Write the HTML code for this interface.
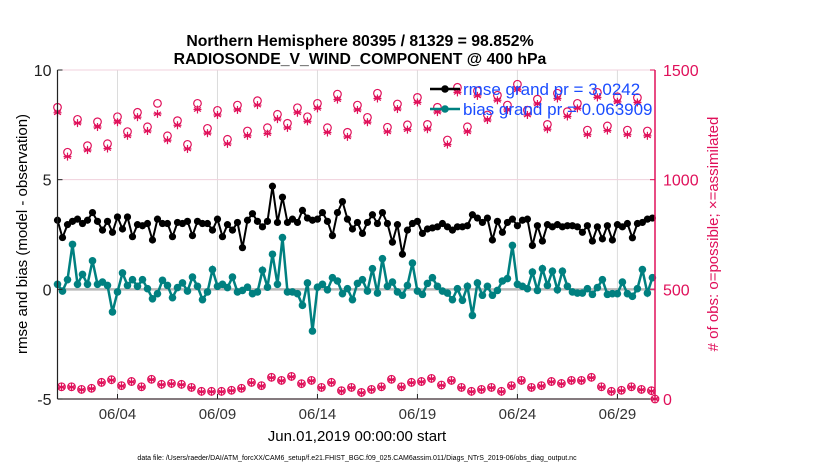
<!DOCTYPE html>
<html><head><meta charset="utf-8"><style>
html,body{margin:0;padding:0;background:#fff;}
svg{display:block;font-family:"Liberation Sans",Arial,sans-serif;}
</style></head><body>
<svg id="chart" width="830" height="470" viewBox="0 0 830 470" xmlns="http://www.w3.org/2000/svg">
<g id="grid"></g>
<g id="series"></g>
<g id="axes"></g>
<text x="360" y="46" text-anchor="middle" font-size="15.8" font-weight="bold">Northern Hemisphere 80395 / 81329 = 98.852%</text>
<text x="360" y="64" text-anchor="middle" font-size="15.8" font-weight="bold">RADIOSONDE_V_WIND_COMPONENT @ 400 hPa</text>
<text transform="translate(27,234) rotate(-90)" text-anchor="middle" font-size="15">rmse and bias (model - observation)</text>
<text transform="translate(718,234) rotate(-90)" text-anchor="middle" font-size="15" fill="#e0105a">&#35; of obs: o=possible; &#215;=assimilated</text>
<text x="357" y="441" text-anchor="middle" font-size="15">Jun.01,2019 00:00:00 start</text>
<text x="357" y="460" text-anchor="middle" font-size="7">data file: /Users/raeder/DAI/ATM_forcXX/CAM6_setup/f.e21.FHIST_BGC.f09_025.CAM6assim.011/Diags_NTrS_2019-06/obs_diag_output.nc</text>
<g id="legend"></g>
</svg>
<script>
const rmse=[3.15,2.36,2.95,3.1,3.2,3.0,3.15,3.5,3.1,2.7,3.1,2.6,3.3,2.75,3.3,2.4,2.95,2.9,3.0,2.25,3.2,3.0,3.0,2.4,3.05,3.0,3.1,2.45,3.1,3.0,
3.0,2.7,3.2,2.4,2.95,2.7,3.05,1.9,3.15,3.45,3.1,2.85,3.1,4.7,3.05,4.2,3.05,3.2,3.05,3.6,3.25,3.15,3.2,3.5,3.1,2.45,3.5,4.0,3.2,2.75,
3.05,2.55,3.05,3.4,3.0,3.5,3.0,2.15,2.95,1.6,2.7,3.0,3.1,2.55,2.75,2.8,2.85,3.0,2.85,2.7,2.85,2.85,2.9,3.4,3.25,3.05,3.25,2.25,3.1,2.6,
3.05,3.2,2.9,3.15,3.2,2.0,2.9,2.2,2.95,2.85,2.95,2.85,2.9,2.9,2.85,2.6,2.9,2.2,2.85,2.3,2.9,2.25,2.95,2.85,3.0,2.35,3.0,3.05,3.2,3.25];
const bias=[0.23,-0.08,0.44,2.05,0.23,0.68,0.23,1.3,0.23,0.33,0.18,-1.03,-0.12,0.75,0.18,0.44,0.14,0.44,0.03,-0.43,-0.2,0.41,0.18,-0.38,0.08,0.29,-0.08,0.56,0.14,-0.47,
-0.12,0.9,0.14,0.23,0.08,0.56,-0.12,-0.05,0.1,-0.2,-0.12,0.87,0.1,1.6,0.23,2.36,-0.12,-0.12,-0.2,-0.73,0.29,-1.9,0.1,0.23,-0.02,0.53,0.38,-0.2,0.03,-0.47,
0.27,0.44,-0.08,0.94,-0.17,1.4,0.14,0.33,-0.12,-0.27,0.18,1.2,-0.08,-0.23,0.27,0.53,0.14,-0.08,-0.17,-0.47,0.03,-0.5,0.14,-1.19,0.29,-0.27,0.14,-0.27,-0.05,0.38,
0.49,2.0,0.23,0.14,0.03,0.79,-0.05,0.94,0.18,0.83,-0.02,0.83,0.14,-0.12,-0.17,-0.17,0.03,-0.23,0.08,0.44,-0.23,-0.2,-0.2,0.33,-0.2,-0.32,0.03,0.9,-0.17,0.53];
const possibleUpper=[1330,1125,1275,1155,1264,1164,1287,1219,1307,1241,1348,1200,1269,1161,1348,1234,1316,1184,1340,1222,1360,1237,1298,1257,1328,1287,1348,1237,1390,1216,
1340,1284,1394,1239,1345,1250,1375,1252,1330,1181,1421,1241,1405,1295,1385,1340,1435,1317,1367,1252,1394,1310,1348,1226,1398,1245,1378,1226,1374,1222];
const assimUpper=[1305,1105,1258,1135,1240,1142,1262,1200,1285,1222,1300,1180,1248,1140,1320,1212,1295,1163,1318,1200,1340,1210,1276,1236,1305,1266,1325,1215,1365,1195,
1318,1262,1370,1218,1322,1228,1352,1230,1308,1160,1398,1218,1382,1272,1362,1318,1410,1295,1345,1230,1370,1288,1325,1205,1375,1224,1355,1205,1352,1200];
const possibleLower=[56,56,44,49,76,88,61,80,56,90,67,71,67,53,35,35,35,40,49,76,61,99,85,103,70,85,53,76,38,53,30,44,56,90,56,76,80,94,64,85,53,35,44,53,35,61,85,53,61,80,71,85,85,99,56,35,40,56,44,38,0];
const assimLower=[54,54,42,47,74,86,59,78,54,88,65,69,65,51,33,33,33,38,47,74,59,97,83,101,68,83,51,74,36,51,28,42,54,88,54,74,78,92,62,83,51,33,42,51,33,59,83,51,59,78,69,83,83,97,54,33,38,54,42,36,0];
const dateTicks=[3,8,13,18,23,28];
const dateLabels=["06/04","06/09","06/14","06/19","06/24","06/29"];
const leftTicks=[-5,0,5,10];
const rightTicks=[0,500,1000,1500];

const NS="http://www.w3.org/2000/svg";
const X0=57.5,X1=655,TMAX=29.88,Y0=399,Y1=70;
const xs=t=>X0+(X1-X0)*t/TMAX;
const yl=v=>Y0-(Y0-Y1)*(v+5)/15;
const yr=c=>Y0-(Y0-Y1)*c/1500;
function mk(tag,attrs,parent){const e=document.createElementNS(NS,tag);for(const k in attrs)e.setAttribute(k,attrs[k]);parent.appendChild(e);return e;}
const grid=document.getElementById('grid'),ser=document.getElementById('series'),axes=document.getElementById('axes'),leg=document.getElementById('legend');
const RED="#e0105a",TEAL="#008080";

dateTicks.forEach((d,i)=>{
  const g=mk('line',{x1:xs(d),x2:xs(d),y1:Y1,y2:Y0,stroke:"#dcdcdc","stroke-width":1},grid);
  
  
  const tk=mk('line',{x1:xs(d),x2:xs(d),y1:Y0,y2:Y0-5,stroke:"#222","stroke-width":1},axes);
  
  
  const tl=mk('text',{x:xs(d),y:Y0+20,"text-anchor":"middle","font-size":15,fill:"#333"},axes);
  
  
  tl.textContent=dateLabels[i];
});
[1000,1500].forEach(c=>{
  const g=mk('line',{x1:X0,x2:X1,y1:yr(c),y2:yr(c),stroke:"#f0d0dc","stroke-width":1},grid);
  
  
});
const zl=mk('line',{x1:X0,x2:X1,y1:yl(0),y2:yl(0),stroke:"#b8b8b8","stroke-width":2.5},grid);



function asterisk(x,y,r,parent){
  const g=mk('g',{stroke:RED,"stroke-width":1.2},parent);
  
  
  for(let a=0;a<3;a++){const an=Math.PI/2+a*Math.PI/3;mk('line',{x1:x-r*Math.cos(an),y1:y-r*Math.sin(an),x2:x+r*Math.cos(an),y2:y+r*Math.sin(an)},g);}
  mk('line',{x1:x-r,y1:y,x2:x+r,y2:y},g);
}
function circle(x,y,parent){
  const c=mk('circle',{cx:x,cy:y,r:3.8,fill:"none",stroke:RED,"stroke-width":1.2},parent);
  
  
}
possibleUpper.forEach((c,i)=>{const t=i*0.5;circle(xs(t),yr(c),ser);asterisk(xs(t),yr(assimUpper[i]),4,ser);});
possibleLower.forEach((c,i)=>{const t=i<60?0.2+i*0.5:TMAX;circle(xs(t),yr(c),ser);asterisk(xs(t),yr(assimLower[i]),4,ser);});

function lineSeries(vals,color,name,markerFn){
  const pts=vals.map((v,i)=>xs(i*0.25).toFixed(1)+","+yl(v).toFixed(1)).join(" ");
  const p=mk('polyline',{points:pts,fill:"none",stroke:color,"stroke-width":color===TEAL?2.5:2},ser);
  
  
  vals.forEach((v,i)=>markerFn(xs(i*0.25),yl(v)));
}
lineSeries(rmse,"#000","rmse",(x,y)=>{
  const c=mk('circle',{cx:x,cy:y,r:3.6,fill:"#000"},ser);
  
  
});
lineSeries(bias,TEAL,"bias",(x,y)=>{
  const c=mk('circle',{cx:x,cy:y,r:3.8,fill:TEAL},ser);
  
  
});

const la=mk('line',{x1:X0,x2:X0,y1:Y1,y2:Y0,stroke:"#222","stroke-width":1.2},axes);


const ba=mk('line',{x1:X0,x2:X1,y1:Y0,y2:Y0,stroke:"#3a2a30","stroke-width":1.2},axes);


const ra=mk('line',{x1:X1,x2:X1,y1:Y1,y2:Y0,stroke:RED,"stroke-width":1.5},axes);


leftTicks.forEach(v=>{
  const tk=mk('line',{x1:X0,x2:X0+5,y1:yl(v),y2:yl(v),stroke:"#222"},axes);
  
  
  const t=mk('text',{x:X0-6,y:yl(v)+6,"text-anchor":"end","font-size":16,fill:"#222"},axes);
  
  
  t.textContent=v;
});
rightTicks.forEach(c=>{
  const tk=mk('line',{x1:X1-5,x2:X1,y1:yr(c),y2:yr(c),stroke:RED},axes);
  
  
  const t=mk('text',{x:X1+8,y:yr(c)+6,"font-size":16,fill:RED},axes);
  
  
  t.textContent=c;
});

[["rmse grand pr = 3.0242","#000",89],["bias grand pr = 0.063909",TEAL,109]].forEach(([txt,col,y])=>{
  const l=mk('line',{x1:430,x2:460,y1:y,y2:y,stroke:col,"stroke-width":2.5},leg);
  
  
  const d=mk('circle',{cx:445,cy:y,r:3.8,fill:col},leg);
  
  
  const t=mk('text',{x:463,y:y+6,"font-size":17,fill:"#1a4cff"},leg);
  
  
  t.textContent=txt;
});
</script>
</body></html>
